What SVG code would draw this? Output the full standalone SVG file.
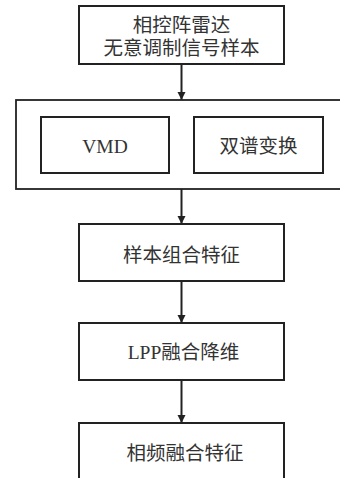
<svg xmlns="http://www.w3.org/2000/svg" width="340" height="478" viewBox="0 0 340 478">
<style>
.box{fill:#fff;stroke:#222;stroke-width:2}
.outer{fill:none;stroke:#222;stroke-width:1.8}
.t{font-family:"Liberation Serif","Noto Sans CJK SC",serif;font-size:19.5px;fill:#333;text-anchor:middle}
.c{stroke:#222;stroke-width:2;fill:none;marker-end:url(#ah)}
</style>
<defs>
<marker id="ah" viewBox="0 0 10 10" refX="10" refY="5" markerWidth="8" markerHeight="9" markerUnits="userSpaceOnUse" orient="auto">
<path d="M0,0 L10,5 L0,10 z" fill="#222"/>
</marker>
</defs>
<rect width="340" height="478" fill="#fff"/>
<g id="connectors">
<line class="c" x1="181.5" y1="64" x2="181.5" y2="100"/>
<line class="c" x1="181.5" y1="189" x2="181.5" y2="224"/>
<line class="c" x1="181.5" y1="281" x2="181.5" y2="323"/>
<line class="c" x1="181.5" y1="380" x2="181.5" y2="423"/>
</g>
<g id="n1">
<rect class="box" x="79" y="6" width="205" height="58"/>
<text class="t" x="181.5" y="32">相控阵雷达</text>
<text class="t" x="181.5" y="55">无意调制信号样本</text>
</g>
<g id="group">
<rect class="outer" x="16" y="100" width="330" height="89"/>
</g>
<g id="vmd">
<rect class="box" x="41" y="117" width="128" height="56"/>
<text class="t" x="105" y="153">VMD</text>
</g>
<g id="bispec">
<rect class="box" x="194" y="117" width="129" height="56"/>
<text class="t" x="258.5" y="153">双谱变换</text>
</g>
<g id="n3">
<rect class="box" x="79" y="224" width="205" height="57"/>
<text class="t" x="181.5" y="262">样本组合特征</text>
</g>
<g id="n4">
<rect class="box" x="79" y="323" width="205" height="57"/>
<text class="t" x="183.5" y="359">LPP融合降维</text>
</g>
<g id="n5">
<rect class="box" x="79" y="423" width="205" height="70"/>
<text class="t" x="185" y="460">相频融合特征</text>
</g>
</svg>
